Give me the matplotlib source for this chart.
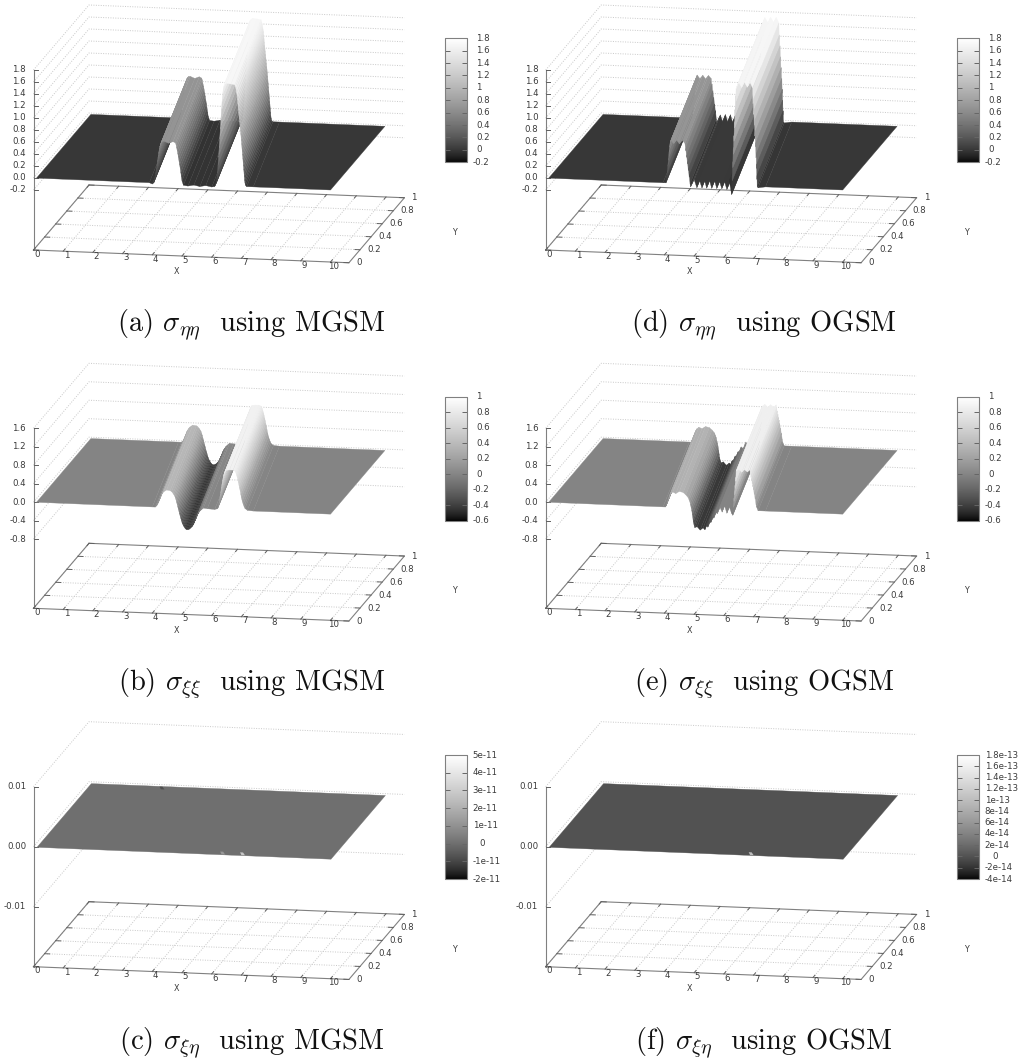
import numpy as np
import matplotlib
matplotlib.use("Agg")
import matplotlib.pyplot as plt
from matplotlib.cm import ScalarMappable
from matplotlib.collections import PolyCollection
from matplotlib.colors import LinearSegmentedColormap, Normalize

W, H = 1022, 1059

# surface profiles: x at the front edge (y=0) and the value there
a_x = [0.1, 3.9, 4.0, 4.05, 4.07, 4.09, 4.11, 4.13, 4.15, 4.17, 4.19, 4.21, 4.23, 4.25, 4.27, 4.3, 4.35, 4.4, 4.55, 4.7,
       4.78, 4.8, 4.82, 4.84, 4.86, 4.88, 4.9, 4.92, 4.94, 4.96, 4.98, 5.0, 5.05,
       5.2, 5.4, 5.6, 5.8, 6.0, 6.1, 6.15, 6.17, 6.19, 6.21, 6.23, 6.25, 6.27, 6.29, 6.31, 6.33, 6.35, 6.37, 6.39,
       6.42, 6.5, 6.65, 6.78, 6.8, 6.82, 6.84, 6.86, 6.87, 6.88, 6.89, 6.9, 6.91, 6.92, 6.93, 6.94, 6.95, 6.96, 6.97,
       6.98, 6.99, 7.0, 7.01, 7.02, 7.03, 7.04, 7.05, 7.06, 7.07, 7.08, 7.09, 7.1, 7.11, 7.12, 7.14, 7.18, 7.4, 10.95]
a_z = [0.0, 0.0, -0.02, 0.0, 0.04, 0.09, 0.15, 0.21, 0.28, 0.35, 0.42, 0.49, 0.55, 0.6, 0.64, 0.68, 0.7, 0.7, 0.67, 0.7,
       0.68, 0.65, 0.6, 0.55, 0.5, 0.44, 0.38, 0.32, 0.26, 0.19, 0.12, 0.05, -0.02,
       -0.03, -0.01, -0.03, -0.01, -0.03, -0.02, 0.03, 0.1, 0.2, 0.33, 0.47, 0.62, 0.78, 0.94, 1.1, 1.26, 1.4, 1.52, 1.62,
       1.68, 1.71, 1.7, 1.69, 1.66, 1.62, 1.56, 1.5, 1.44, 1.38, 1.32, 1.27, 1.22, 1.17, 1.12, 1.07, 1.02, 0.97, 0.92,
       0.87, 0.82, 0.76, 0.7, 0.64, 0.58, 0.52, 0.46, 0.4, 0.34, 0.28, 0.22, 0.16, 0.1, 0.06, 0.02, 0.0, 0.0, 0.0]

d_x = [0.1, 3.95, 4.05, 4.07, 4.09, 4.11, 4.13, 4.15, 4.17, 4.19, 4.22, 4.31, 4.41, 4.5, 4.6, 4.69,
       4.71, 4.72, 4.74, 4.75, 4.77, 4.78, 4.8, 4.81, 4.83, 4.84, 4.86, 4.88,
       5.0, 5.09, 5.17, 5.26, 5.34, 5.42, 5.51, 5.59, 5.68, 5.76, 5.84, 5.93, 6.01, 6.1, 6.18, 6.26,
       6.27, 6.28, 6.29, 6.3, 6.31, 6.32, 6.33, 6.34, 6.35, 6.36, 6.37, 6.38, 6.39, 6.4, 6.41,
       6.5, 6.6, 6.69, 6.79, 6.88, 6.97,
       6.98, 6.99, 7.0, 7.01, 7.02, 7.03, 7.04, 7.05, 7.06, 7.07, 7.08, 7.09, 7.095, 7.1, 7.11, 7.115, 7.12, 7.15, 7.4, 10.95]
d_z = [0.0, 0.0, 0.0, 0.08, 0.16, 0.28, 0.38, 0.5, 0.6, 0.68, 0.72, 0.66, 0.72, 0.66, 0.72, 0.67,
       0.55, 0.58, 0.44, 0.47, 0.33, 0.36, 0.22, 0.25, 0.11, 0.14, 0.0, -0.05,
       0.07, -0.06, 0.08, -0.06, 0.08, -0.06, 0.08, -0.06, 0.08, -0.06, 0.08, -0.06, 0.08, -0.07, 0.08, -0.15,
       0.15, 0.08, 0.38, 0.3, 0.6, 0.52, 0.82, 0.74, 1.04, 0.96, 1.26, 1.18, 1.48, 1.4, 1.62,
       1.72, 1.64, 1.73, 1.65, 1.73, 1.64,
       1.38, 1.44, 1.2, 1.26, 1.02, 1.08, 0.84, 0.9, 0.66, 0.72, 0.48, 0.54, 0.3, 0.36, 0.12, 0.18, 0.0, -0.02, 0.0, 0.0]

b_x = [0.1, 4.0, 4.1, 4.15, 4.2, 4.25, 4.3, 4.37, 4.48, 4.6, 4.65, 4.7, 4.73, 4.76, 4.78, 4.8, 4.82, 4.84, 4.86, 4.88,
       4.9, 4.92, 4.94, 4.96, 4.98, 5.0, 5.02, 5.04, 5.06, 5.08, 5.1, 5.13, 5.16, 5.2, 5.24, 5.28, 5.33, 5.36, 5.38, 5.4, 5.42,
       5.44, 5.46, 5.48, 5.5, 5.53, 5.56, 5.6, 5.65, 5.72, 5.85, 6.1, 6.2, 6.22, 6.24, 6.26, 6.28, 6.3, 6.32, 6.34, 6.36, 6.38,
       6.4, 6.42, 6.45, 6.48, 6.6, 6.72, 6.78, 6.8, 6.82, 6.84, 6.86, 6.88, 6.9, 6.92, 6.94, 6.96, 6.98, 7.0, 7.03, 7.06,
       7.09, 7.12, 7.2, 7.4, 10.95]
b_z = [0.0, 0.0, 0.0, 0.03, 0.09, 0.17, 0.26, 0.33, 0.38, 0.37, 0.35, 0.31, 0.28, 0.25, 0.21, 0.17, 0.12, 0.07, 0.02, -0.03,
       -0.08, -0.13, -0.18, -0.22, -0.27, -0.31, -0.34, -0.37, -0.39, -0.41, -0.43, -0.45, -0.46, -0.46, -0.45, -0.43, -0.4, -0.37, -0.35, -0.32, -0.29,
       -0.26, -0.23, -0.2, -0.16, -0.12, -0.09, -0.05, -0.02, 0.02, 0.01, 0.0, 0.02, 0.07, 0.13, 0.2, 0.28, 0.36, 0.45, 0.53, 0.61, 0.68,
       0.74, 0.79, 0.83, 0.86, 0.87, 0.87, 0.85, 0.83, 0.8, 0.76, 0.71, 0.66, 0.6, 0.54, 0.48, 0.42, 0.35, 0.28, 0.2, 0.14,
       0.09, 0.05, 0.01, 0.0, 0.0]

e_x = [0.1, 3.95, 4.03, 4.05, 4.07, 4.09, 4.11, 4.13, 4.15, 4.17, 4.2, 4.28, 4.38, 4.5, 4.63, 4.72, 4.8, 4.83, 4.86, 4.88, 4.9, 4.92,
       4.94, 4.96, 4.97, 5.0, 5.02, 5.1, 5.2, 5.3, 5.36, 5.4, 5.46, 5.5, 5.56, 5.6, 5.66, 5.7, 5.78, 5.86, 5.94, 6.02, 6.1, 6.18, 6.26, 6.3,
       6.31, 6.32, 6.33, 6.34, 6.35, 6.36, 6.37, 6.38, 6.39, 6.4, 6.41,
       6.5, 6.6, 6.69, 6.79, 6.88, 6.89, 6.9, 6.91, 6.92, 6.93, 6.94, 6.95, 6.96, 6.97, 6.98, 6.99, 7.0, 7.02, 7.03, 7.05, 7.06, 7.08, 7.1, 7.15, 7.4, 10.95]
e_z = [0.0, 0.0, 0.0, 0.02, 0.05, 0.09, 0.13, 0.17, 0.21, 0.25, 0.29, 0.33, 0.3, 0.35, 0.33, 0.28, 0.22, 0.17, 0.12, 0.06, 0.0, -0.06,
       -0.15, -0.24, -0.3, -0.38, -0.42, -0.4, -0.47, -0.42, -0.46, -0.36, -0.4, -0.26, -0.3, -0.16, -0.2, -0.06, -0.1, 0.05, -0.06, 0.08, -0.08, 0.06, -0.08, -0.12,
       0.1, 0.05, 0.24, 0.18, 0.38, 0.32, 0.52, 0.46, 0.68, 0.62, 0.84,
       0.88, 0.82, 0.88, 0.83, 0.88, 0.78, 0.81, 0.72, 0.75, 0.65, 0.68, 0.58, 0.61, 0.52, 0.55, 0.45, 0.48, 0.35, 0.38, 0.25, 0.27, 0.14, 0.08, 0.0, 0.0, 0.0]

c_x = [0.1, 10.95]
c_z = [0.0, 0.0]
f_x = [0.1, 10.95]
f_z = [0.0, 0.0]

# small streaks on the flat shear plots
c_spot_x = [2.55, 6.33, 7.0]
c_spot_y = [0.95, 0.02, 0.02]
c_spot_z = [-8e-12, 1.2e-11, 2.8e-11]
f_spot_x = [6.88]
f_spot_y = [0.02]
f_spot_z = [1e-13]

x_ticks = list(range(11))
y_ticks = [0, 0.2, 0.4, 0.6, 0.8, 1]
y_labels = ["0", "0.2", "0.4", "0.6", "0.8", "1"]

z_ticks_a = [-0.2, 0.0, 0.2, 0.4, 0.6, 0.8, 1.0, 1.2, 1.4, 1.6, 1.8]
z_labels_a = ["-0.2", "0.0", "0.2", "0.4", "0.6", "0.8", "1.0", "1.2", "1.4", "1.6", "1.8"]
z_ticks_b = [-0.8, -0.4, 0.0, 0.4, 0.8, 1.2, 1.6]
z_labels_b = ["-0.8", "-0.4", "0.0", "0.4", "0.8", "1.2", "1.6"]
z_ticks_c = [-0.01, 0.0, 0.01]
z_labels_c = ["-0.01", "0.00", "0.01"]

cb_ticks_a = [-0.2, 0, 0.2, 0.4, 0.6, 0.8, 1, 1.2, 1.4, 1.6, 1.8]
cb_labels_a = ["-0.2", "0", "0.2", "0.4", "0.6", "0.8", "1", "1.2", "1.4", "1.6", "1.8"]
cb_ticks_b = [-0.6, -0.4, -0.2, 0, 0.2, 0.4, 0.6, 0.8, 1]
cb_labels_b = ["-0.6", "-0.4", "-0.2", "0", "0.2", "0.4", "0.6", "0.8", "1"]
cb_ticks_c = [-2e-11, -1e-11, 0, 1e-11, 2e-11, 3e-11, 4e-11, 5e-11]
cb_labels_c = ["-2e-11", "-1e-11", "0", "1e-11", "2e-11", "3e-11", "4e-11", "5e-11"]
cb_ticks_f = [-4e-14, -2e-14, 0, 2e-14, 4e-14, 6e-14, 8e-14, 1e-13, 1.2e-13, 1.4e-13, 1.6e-13, 1.8e-13]
cb_labels_f = ["-4e-14", "-2e-14", "0", "2e-14", "4e-14", "6e-14", "8e-14", "1e-13", "1.2e-13", "1.4e-13", "1.6e-13", "1.8e-13"]

captions = [r"(a) $\sigma_{\eta\eta}$  using MGSM", r"(b) $\sigma_{\xi\xi}$  using MGSM", r"(c) $\sigma_{\xi\eta}$  using MGSM",
            r"(d) $\sigma_{\eta\eta}$  using OGSM", r"(e) $\sigma_{\xi\xi}$  using OGSM", r"(f) $\sigma_{\xi\eta}$  using OGSM"]

plt.rcParams['font.family'] = ['DejaVu Sans']
plt.rcParams['mathtext.fontset'] = 'cm'
plt.rcParams['axes.unicode_minus'] = False

TXT = '#3a3a3a'
AXC = '#808080'
GRID = '#c8c8c8'
TICK = '#606060'
FS = 6.2

# gnuplot's default gray palette, gamma 1.5
gray = LinearSegmentedColormap.from_list(
    'gp_gray', [(t ** (1 / 1.5),) * 3 for t in np.linspace(0, 1, 256)], N=1024)

fig = plt.figure(figsize=(W / 100, H / 100), dpi=100)
ax = fig.add_axes([0, 0, 1, 1])
ax.set_xlim(0, W)
ax.set_ylim(H, 0)
ax.axis('off')

XMAX = 10.62
SHIFT = 0.95    # how far the ridge lines move in x between the front and back of the plate
Y_BACK = 0.98


def draw_panel(ox, oy, z_base, z_top, z_ticks, z_labels, px, pz, cb_min, cb_max, cb_ticks, cb_labels,
               spots=None):
    scale = 180.0 / (z_top - z_base)

    def sx(x, y):
        return ox + 29.7 * x + 55.5 * y

    def sy(x, y, z):
        return oy + 1.2 * x - 65.0 * y - (z - z_base) * scale

    # walls
    for zt in z_ticks:
        ax.plot([sx(0, 0), sx(0, 1), sx(XMAX, 1)], [sy(0, 0, zt), sy(0, 1, zt), sy(XMAX, 1, zt)],
                color=GRID, lw=0.7, ls=(0, (1, 1.5)), zorder=1)
    # floor grid
    for xt in x_ticks:
        ax.plot([sx(xt, 0), sx(xt, 1)], [sy(xt, 0, z_base), sy(xt, 1, z_base)],
                color=GRID, lw=0.7, ls=(0, (1, 1.5)), zorder=1)
    for yt in y_ticks[1:-1]:
        ax.plot([sx(0, yt), sx(XMAX, yt)], [sy(0, yt, z_base), sy(XMAX, yt, z_base)],
                color=GRID, lw=0.7, ls=(0, (1, 1.5)), zorder=1)

    # floor border and z axis
    cx = [sx(0, 0), sx(XMAX, 0), sx(XMAX, 1), sx(0, 1), sx(0, 0)]
    cy = [sy(0, 0, z_base), sy(XMAX, 0, z_base), sy(XMAX, 1, z_base), sy(0, 1, z_base), sy(0, 0, z_base)]
    ax.plot(cx, cy, color=AXC, lw=0.8, zorder=2)
    ax.plot([sx(0, 0), sx(0, 0)], [sy(0, 0, z_base), sy(0, 0, z_top)], color=AXC, lw=0.8, zorder=2)

    for xt, lab in zip(x_ticks, [str(v) for v in x_ticks]):
        for yb, d in ((0, 0.035), (1, -0.035)):
            ax.plot([sx(xt, yb), sx(xt, yb + d)], [sy(xt, yb, z_base), sy(xt, yb + d, z_base)],
                    color=TICK, lw=0.7, zorder=2)
        ax.text(sx(xt, 0) + 3.2, sy(xt, 0, z_base) + 4.2, lab, ha='center', va='center', fontsize=FS, color=TXT)
    for yt, lab in zip(y_ticks, y_labels):
        for xb, d in ((0, 0.17), (XMAX, -0.17)):
            ax.plot([sx(xb, yt), sx(xb + d, yt)], [sy(xb, yt, z_base), sy(xb + d, yt, z_base)],
                    color=TICK, lw=0.7, zorder=2)
        ax.text(sx(XMAX, yt) + 7, sy(XMAX, yt, z_base), lab, ha='left', va='center', fontsize=FS, color=TXT)
    for zt, lab in zip(z_ticks, z_labels):
        ax.plot([sx(0, 0), sx(0, 0) + 4], [sy(0, 0, zt), sy(0, 0, zt)], color=TICK, lw=0.7, zorder=2)
        ax.text(sx(0, 0) - 7.5, sy(0, 0, zt), lab, ha='right', va='center', fontsize=FS, color=TXT)
    ax.text(ox + 143.5, oy + 22, 'X', ha='center', va='center', fontsize=FS - 0.4, color=TXT)
    ax.text(ox + 421, oy - 17.7, 'Y', ha='center', va='center', fontsize=FS - 0.4, color=TXT)

    # surface, strip by strip from back to front
    norm = Normalize(cb_min, cb_max)
    polys = []
    cols = []
    for i in range(len(px) - 1):
        f0, f1 = min(px[i], 10.0), min(px[i + 1], 10.0)
        b0, b1 = max(px[i] - SHIFT, 0.1), max(px[i + 1] - SHIFT, 0.1)
        b0, b1 = min(b0, 10.0), min(b1, 10.0)
        z0, z1 = pz[i], pz[i + 1]
        polys.append([(sx(f0, 0), sy(f0, 0, z0)), (sx(f1, 0), sy(f1, 0, z1)),
                      (sx(b1, Y_BACK), sy(b1, Y_BACK, z1)), (sx(b0, Y_BACK), sy(b0, Y_BACK, z0))])
        cols.append(gray(norm((z0 + z1) / 2)))
    ax.add_collection(PolyCollection(polys, facecolors=cols, edgecolors=cols, linewidths=0.25, zorder=3))

    if spots is not None:
        sp, sc = [], []
        for xs, ys, zs in zip(*spots):
            dy = 0.02
            sp.append([(sx(xs, ys - dy), sy(xs, ys - dy, 0)), (sx(xs + 0.12, ys - dy), sy(xs + 0.12, ys - dy, 0)),
                       (sx(xs + 0.1 - 0.12, ys + dy), sy(xs + 0.1 - 0.12, ys + dy, 0)),
                       (sx(xs - 0.12, ys + dy), sy(xs - 0.12, ys + dy, 0))])
            sc.append(gray(norm(zs)))
        ax.add_collection(PolyCollection(sp, facecolors=sc, edgecolors='none', zorder=4))

    # colorbar
    bx, bw, bh = ox + 411.7, 22.0, 124.0
    by = oy - 211.7
    cax = fig.add_axes([bx / W, 1 - (by + bh) / H, bw / W, bh / H])
    cb = fig.colorbar(ScalarMappable(norm=norm, cmap=gray), cax=cax, ticks=cb_ticks)
    cb.outline.set_edgecolor(AXC)
    cb.outline.set_linewidth(0.8)
    cax.set_yticklabels([])
    cax.tick_params(axis='y', which='both', left=True, right=True, direction='in', length=3.6,
                    width=0.7, color='#666666')
    has_sci = any('e' in s for s in cb_labels)
    for v, lab in zip(cb_ticks, cb_labels):
        if lab == '0' and has_sci:
            dx = 12.5
        elif has_sci or lab.startswith('-'):
            dx = 5.4
        else:
            dx = 8.7
        cax.annotate(lab, (1, v), xycoords=('axes fraction', 'data'), xytext=(dx, 0), textcoords='offset pixels',
                     ha='left', va='center', fontsize=FS, color=TXT, annotation_clip=False)


# left column
draw_panel(33.5, 250.0, -1.2, 1.8, z_ticks_a, z_labels_a, a_x, a_z, -0.2, 1.8, cb_ticks_a, cb_labels_a)
draw_panel(33.5, 608.3, -2.3, 1.6, z_ticks_b, z_labels_b, b_x, b_z, -0.6, 1.0, cb_ticks_b, cb_labels_b)
draw_panel(33.5, 966.7, -0.02, 0.01, z_ticks_c, z_labels_c, c_x, c_z, -2e-11, 5e-11, cb_ticks_c, cb_labels_c,
           spots=(c_spot_x, c_spot_y, c_spot_z))
# right column
draw_panel(545.7, 250.0, -1.2, 1.8, z_ticks_a, z_labels_a, d_x, d_z, -0.2, 1.8, cb_ticks_a, cb_labels_a)
draw_panel(545.7, 608.3, -2.3, 1.6, z_ticks_b, z_labels_b, e_x, e_z, -0.6, 1.0, cb_ticks_b, cb_labels_b)
draw_panel(545.7, 966.7, -0.02, 0.01, z_ticks_c, z_labels_c, f_x, f_z, -4e-14, 1.8e-13, cb_ticks_f, cb_labels_f,
           spots=(f_spot_x, f_spot_y, f_spot_z))

cap_x = [251.5, 251.5, 251.5, 764, 764, 764]
cap_y = [331, 690, 1049, 331, 690, 1049]
for x, y, s in zip(cap_x, cap_y, captions):
    ax.text(x, y, s, ha='center', va='baseline', fontsize=20.5, family='cmr10', color='#111111')

fig.savefig('out.png', dpi=100)
